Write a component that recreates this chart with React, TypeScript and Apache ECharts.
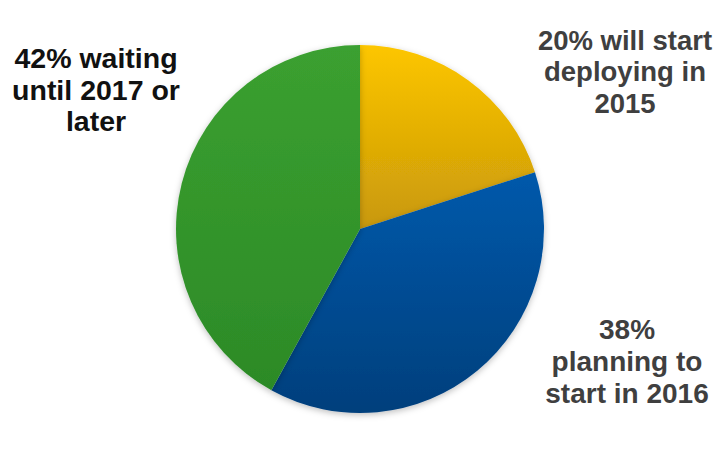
import React, { useEffect, useRef } from "react";
import * as echarts from "echarts";

const categories = ["will start deploying in 2015", "planning to start in 2016", "waiting until 2017 or later"];
const values = [20, 38, 42];
const labelLines = [
  ["20% will start", "deploying in", "2015"],
  ["38%", "planning to", "start in 2016"],
  ["42% waiting", "until 2017 or", "later"],
];

const grad = (top: string, bottom: string) =>
  new echarts.graphic.LinearGradient(0, 0, 0, 1, [
    { offset: 0, color: top },
    { offset: 1, color: bottom },
  ]);

export default function App() {
  const ref = useRef<HTMLDivElement>(null);
  useEffect(() => {
    document.body.style.margin = "0";
    const chart = echarts.init(ref.current!, null, { renderer: "svg" });
    const colors = [
      grad("#fdc600", "#c8980a"),
      grad("#0059ab", "#003f7c"),
      grad("#3ba030", "#2c8a27"),
    ];
    const labelPos = [
      { x: 625, y: 71.5, color: "#3f3f3f", size: 27.5, lh: 31.5 },
      { x: 627, y: 361, color: "#3f3f3f", size: 28, lh: 32 },
      { x: 96, y: 89.5, color: "#111111", size: 28.5, lh: 31.5 },
    ];
    chart.setOption({
      animation: false,
      backgroundColor: "#ffffff",
      series: [
        {
          type: "pie",
          center: [360, 229],
          radius: [0, 184],
          startAngle: 90,
          clockwise: true,
          label: { show: false },
          labelLine: { show: false },
          emphasis: { disabled: true },
          itemStyle: {
            shadowBlur: 6,
            shadowColor: "rgba(0,0,0,0.25)",
            shadowOffsetY: 2,
          },
          data: categories.map((name, i) => ({
            name,
            value: values[i],
            itemStyle: { color: colors[i] },
          })),
        },
      ],
      graphic: labelLines.map((lines, i) => ({
        type: "text",
        x: labelPos[i].x,
        y: labelPos[i].y,
        style: {
          text: lines.join("\n"),
          fill: labelPos[i].color,
          font: `bold ${labelPos[i].size}px 'Liberation Sans', Arial, sans-serif`,
          lineHeight: labelPos[i].lh,
          align: "center",
          verticalAlign: "middle",
        },
      })),
    });
    return () => chart.dispose();
  }, []);
  return <div ref={ref} style={{ width: 720, height: 460 }} />;
}
